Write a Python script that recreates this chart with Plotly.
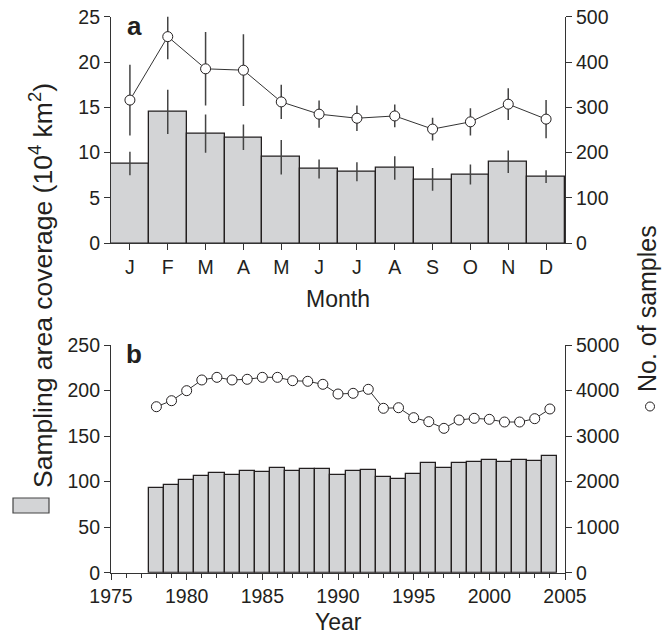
import plotly.graph_objects as go

# ---- Data ----
months = ["J", "F", "M", "A", "M", "J", "J", "A", "S", "O", "N", "D"]
month_idx = list(range(12))
area_month = [8.8, 14.5, 12.1, 11.7, 9.5, 8.2, 7.9, 8.3, 7.05, 7.6, 9.0, 7.35]
area_month_err = [1.3, 2.45, 2.1, 1.4, 1.9, 1.05, 1.05, 1.3, 1.25, 1.1, 1.25, 0.7]
samples_month = [316, 456, 385, 382, 312, 285, 276, 281, 252, 268, 307, 274]
samples_month_err = [78, 50, 81, 79, 38, 30, 28, 25, 25, 30, 35, 42]

years = list(range(1978, 2005))
area_year = [92.7, 96.3, 101.8, 106.5, 109.8, 106.9, 112.0, 110.9, 114.6, 111.7,
             114.2, 113.5, 106.9, 111.3, 112.4, 104.7, 103.2, 108.0, 120.1, 114.6,
             120.1, 121.9, 123.7, 121.5, 123.4, 122.6, 128.1]
samples_year = [3645, 3777, 3997, 4232, 4290, 4232, 4247, 4290, 4290, 4216,
                4203, 4137, 3924, 3939, 4027, 3610, 3623, 3404, 3316, 3170,
                3353, 3390, 3368, 3309, 3309, 3382, 3595]

BAR_FILL = "#d3d4d6"
INK = "#231f20"
FONT = "Liberation Sans, Arial, sans-serif"
TICK_SIZE = 19.5
TITLE_SIZE = 23

fig = go.Figure()

# Panel a
fig.add_trace(go.Bar(x=month_idx, y=area_month, width=1,
                     marker=dict(color=BAR_FILL, line=dict(color=INK, width=1.3)),
                     error_y=dict(type="data", array=area_month_err, width=0,
                                  thickness=1.5, color="#444"),
                     xaxis="x", yaxis="y", showlegend=False))
fig.add_trace(go.Scatter(x=month_idx, y=samples_month, mode="lines+markers",
                         line=dict(color="#333", width=1),
                         marker=dict(size=10, color="white", line=dict(color=INK, width=1)),
                         error_y=dict(type="data", array=samples_month_err, width=0,
                                      thickness=1.5, color="#444"),
                         xaxis="x", yaxis="y2", showlegend=False))

# Panel b
fig.add_trace(go.Bar(x=years, y=area_year, width=1,
                     marker=dict(color=BAR_FILL, line=dict(color=INK, width=1.3)),
                     xaxis="x2", yaxis="y3", showlegend=False))
fig.add_trace(go.Scatter(x=years, y=samples_year, mode="lines+markers",
                         line=dict(color="#333", width=1),
                         marker=dict(size=10, color="white", line=dict(color=INK, width=1)),
                         xaxis="x2", yaxis="y4", showlegend=False))

W, H = 670, 635
def px(x):
    return x / W
def py(y):
    return 1 - y / H

xdom = [px(111), px(565)]
ax_common = dict(showline=True, linecolor="#333", linewidth=1.2, ticks="outside",
                 ticklen=6, tickwidth=1.2, tickcolor="#333", showgrid=False,
                 zeroline=False, automargin=False,
                 tickfont=dict(family=FONT, size=TICK_SIZE, color=INK))

fig.update_layout(
    width=W, height=H, autosize=False,
    margin=dict(l=0, r=0, t=0, b=0),
    paper_bgcolor="white", plot_bgcolor="white",
    bargap=0,
    xaxis=dict(domain=xdom, anchor="y", range=[-0.5, 11.5], tickmode="array",
               tickvals=month_idx, ticktext=months, **ax_common),
    yaxis=dict(domain=[py(243.3), py(16.7)], anchor="x", range=[0, 25], dtick=5, **ax_common),
    yaxis2=dict(overlaying="y", side="right", anchor="x", range=[0, 500], dtick=100, **ax_common),
    xaxis2=dict(domain=xdom, anchor="y3", range=[1975, 2005], tick0=1975, dtick=5,
                minor=dict(dtick=1, ticklen=4, ticks="outside", tickcolor="#333", tickwidth=1.2),
                **ax_common),
    yaxis3=dict(domain=[py(572.7), py(345)], anchor="x2", range=[0, 250], dtick=50, **ax_common),
    yaxis4=dict(overlaying="y3", side="right", anchor="x2", range=[0, 5000], dtick=1000, **ax_common),
)

def note(text, x, y, size, angle=0):
    fig.add_annotation(text=text, x=px(x), y=py(y), xref="paper", yref="paper",
                       showarrow=False, textangle=angle,
                       font=dict(family=FONT, size=size, color=INK),
                       xanchor="center", yanchor="middle")

# Axis titles
note("Month", 338, 299, TITLE_SIZE)
note("Year", 338, 622, TITLE_SIZE)

# Panel labels
note("<b>a</b>", 134, 26, 26)
note("<b>b</b>", 134, 354, 26)

# Left shared title with legend box
note("Sampling area coverage (10<sup>4</sup> km<sup>2</sup>)", 41, 286, 26.5, -90)
fig.add_shape(type="rect", xref="paper", yref="paper",
              x0=px(13), x1=px(49), y0=py(513), y1=py(498),
              fillcolor=BAR_FILL, line=dict(color="#444", width=1.2))

# Right shared title with circle symbol
note("No. of samples", 647, 309, 25, -90)
fig.add_shape(type="circle", xref="paper", yref="paper",
              x0=px(645.5), x1=px(654.5), y0=py(411), y1=py(402),
              fillcolor="white", line=dict(color=INK, width=1))

fig.write_html("out.html")
